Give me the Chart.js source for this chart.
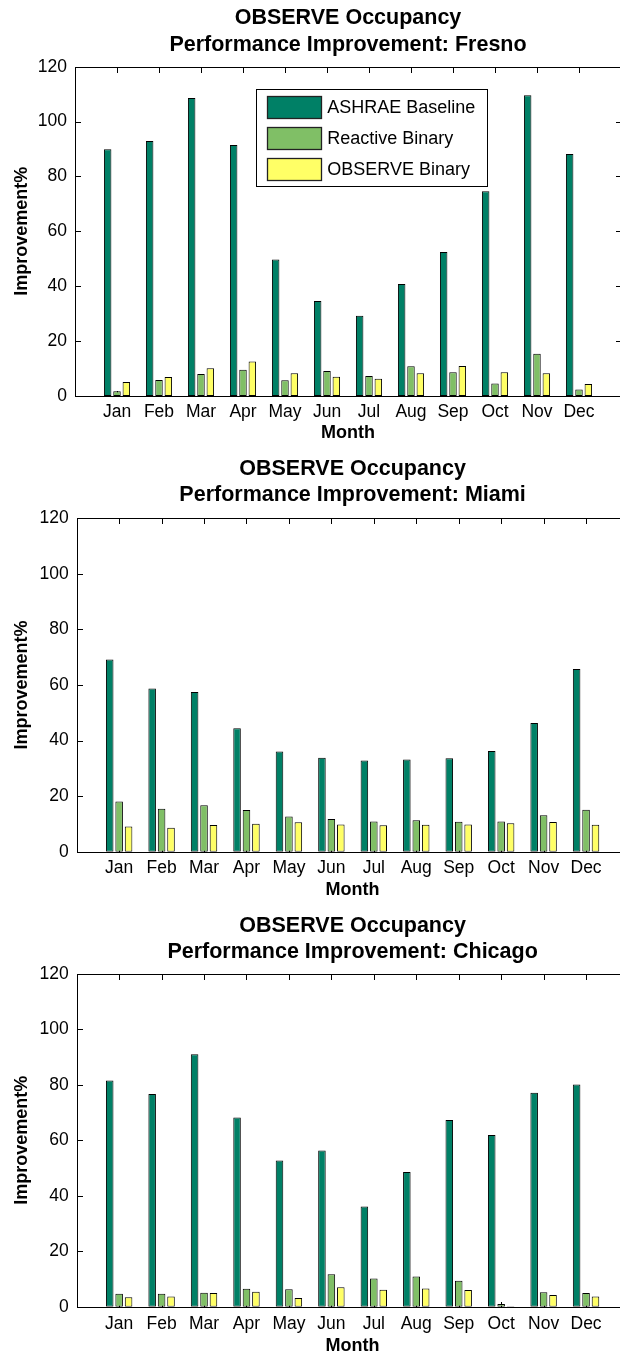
<!DOCTYPE html>
<html>
<head>
<meta charset="utf-8">
<script src="https://cdn.jsdelivr.net/npm/chart.js@4.4.1/dist/chart.umd.min.js"></script>
<style>
  html, body { margin: 0; padding: 0; background: #fff; width: 620px; height: 1357px; overflow: hidden; }
  canvas { position: absolute; left: 0; }
</style>
</head>
<body>
<canvas id="fresno"></canvas>
<canvas id="miami"></canvas>
<canvas id="chicago"></canvas>
<script>
// Month categories and series names
const months = ['Jan', 'Feb', 'Mar', 'Apr', 'May', 'Jun', 'Jul', 'Aug', 'Sep', 'Oct', 'Nov', 'Dec'];
const seriesNames = ['ASHRAE Baseline', 'Reactive Binary', 'OBSERVE Binary'];
const yTicks = [0, 20, 40, 60, 80, 100, 120];

// Improvement (%) per month — Fresno
const fresnoAshrae   = [89.9, 92.9, 108.6, 91.5, 49.7, 34.6, 29.2, 40.8, 52.5, 74.6, 109.6, 88.2];
const fresnoReactive = [1.7, 5.8, 8.0, 9.6, 5.7, 9.1, 7.3, 10.8, 8.7, 4.6, 15.4, 2.4];
const fresnoObserve  = [5.1, 6.9, 10.1, 12.6, 8.3, 7.0, 6.3, 8.3, 10.9, 8.7, 8.3, 4.4];

// Improvement (%) per month — Miami
const miamiAshrae   = [69.2, 58.7, 57.5, 44.4, 36.1, 33.8, 32.8, 33.2, 33.6, 36.2, 46.3, 65.8];
const miamiReactive = [18.1, 15.5, 16.7, 15.0, 12.7, 11.8, 10.9, 11.3, 10.8, 10.9, 13.1, 15.1];
const miamiObserve  = [9.1, 8.6, 9.6, 10.1, 10.6, 9.8, 9.5, 9.7, 9.8, 10.2, 10.7, 9.7];

// Improvement (%) per month — Chicago
const chicagoAshrae   = [81.6, 76.7, 91.1, 68.2, 52.7, 56.3, 36.1, 48.6, 67.3, 61.9, 77.2, 80.1];
const chicagoReactive = [4.7, 4.7, 5.0, 6.5, 6.3, 11.7, 10.2, 10.9, 9.4, 1.0, 5.2, 4.9];
const chicagoObserve  = [3.4, 3.7, 4.9, 5.4, 3.1, 7.0, 6.1, 6.6, 6.0, 0.2, 4.2, 3.7];

// "summer" palette: dark green, light green, yellow
const seriesColors = ['rgb(0,128,102)', 'rgb(128,191,102)', 'rgb(255,255,102)'];

const FONT = "'Liberation Sans', Arial, Helvetica, sans-serif";
const CANVAS_W = 650;
const TICK_FONT = 17.5, TICK_LH = 21;
const AXT_FONT = 18, AXT_LH = 21.6;
const TITLE_FONT = 21.5, TITLE_LH = 26.5;
const TICK_LEN = 5.5;

Chart.defaults.font.family = FONT;
Chart.defaults.color = '#000';

// Box around the axes with inward tick marks (ticks sit under the bars)
const axesBoxPlugin = {
  id: 'axesBox',
  beforeDatasetsDraw(chart) {
    const { ctx, chartArea: a, scales: { x, y } } = chart;
    const L = Math.round(a.left) + 0.5, R = Math.round(a.right) + 0.5;
    const T = Math.round(a.top) + 0.5, B = Math.round(a.bottom) + 0.5;
    ctx.save();
    ctx.strokeStyle = '#000';
    ctx.lineWidth = 1;
    ctx.beginPath();
    months.forEach((m, i) => {
      const px = Math.round(x.getPixelForValue(i + 1)) + 0.5;
      ctx.moveTo(px, T); ctx.lineTo(px, T + TICK_LEN);
      ctx.moveTo(px, B); ctx.lineTo(px, B - TICK_LEN);
    });
    yTicks.forEach(v => {
      const py = Math.round(y.getPixelForValue(v)) + 0.5;
      ctx.moveTo(L, py); ctx.lineTo(L + TICK_LEN, py);
      ctx.moveTo(R, py); ctx.lineTo(R - TICK_LEN, py);
    });
    ctx.stroke();
    ctx.restore();
  },
  afterDatasetsDraw(chart) {
    const { ctx, chartArea: a } = chart;
    const L = Math.round(a.left) + 0.5, R = Math.round(a.right) + 0.5;
    const T = Math.round(a.top) + 0.5, B = Math.round(a.bottom) + 0.5;
    ctx.save();
    ctx.strokeStyle = '#000';
    ctx.lineWidth = 1;
    ctx.strokeRect(L, T, R - L, B - T);
    ctx.restore();
  }
};

// Boxed legend placed inside the plot area
const boxLegendPlugin = {
  id: 'boxLegend',
  afterDraw(chart, args, opts) {
    if (!opts || !opts.display) return;
    const { ctx, chartArea: a } = chart;
    const bx = Math.round(a.left + opts.dx) + 0.5;
    const by = Math.round(a.top + opts.dy) + 0.5;
    ctx.save();
    ctx.fillStyle = '#fff';
    ctx.fillRect(bx, by, opts.w, opts.h);
    ctx.strokeStyle = '#000';
    ctx.lineWidth = 1;
    ctx.strokeRect(bx, by, opts.w, opts.h);
    ctx.font = opts.fontSize + 'px ' + FONT;
    ctx.textBaseline = 'middle';
    ctx.textAlign = 'left';
    chart.data.datasets.forEach((ds, i) => {
      const sx = Math.round(bx + opts.swatchX) + 0.5;
      const sy = Math.round(by + opts.swatchY + i * opts.stride) + 0.5;
      ctx.fillStyle = ds.backgroundColor;
      ctx.fillRect(sx, sy, opts.swatchW, opts.swatchH);
      ctx.strokeStyle = '#222';
      ctx.lineWidth = 1.3;
      ctx.strokeRect(sx, sy, opts.swatchW, opts.swatchH);
      ctx.fillStyle = '#000';
      ctx.fillText(ds.label, bx + opts.textX, sy + opts.swatchH / 2 + 0.5);
    });
    ctx.restore();
  }
};

function makePanel(id, city, series, p, legend) {
  const canvas = document.getElementById(id);
  const H = p.canvasH;
  canvas.width = CANVAS_W;
  canvas.height = H;
  canvas.style.top = p.canvasTop + 'px';
  canvas.style.width = CANVAS_W + 'px';
  canvas.style.height = H + 'px';

  const titlePadTop = p.title1Y - p.canvasTop - TITLE_LH / 2;
  const titlePadBottom = (p.plotTop - p.canvasTop) - titlePadTop - 2 * TITLE_LH;
  const xScaleH = H - (p.plotBottom - p.canvasTop);
  const xTickPad = p.monthY - p.plotBottom - TICK_LH / 2;
  const xTitlePad = H - (p.xTitleY - p.canvasTop) - AXT_LH / 2;

  const datasets = series.map((vals, i) => ({
    label: seriesNames[i],
    data: vals.map((v, k) => ({ x: k + 1, y: v })),
    backgroundColor: seriesColors[i],
    borderColor: '#000',
    borderWidth: 1,
    borderSkipped: false,
    categoryPercentage: 3 / 4.5,
    barPercentage: 0.8
  }));

  return new Chart(canvas, {
    type: 'bar',
    data: { datasets },
    plugins: [axesBoxPlugin, boxLegendPlugin],
    options: {
      responsive: false,
      animation: false,
      devicePixelRatio: 1,
      layout: { padding: { left: 0, top: 0, bottom: 0, right: CANVAS_W - p.plotRight } },
      plugins: {
        legend: { display: false },
        tooltip: { enabled: false },
        title: {
          display: true,
          fullSize: false,
          text: ['OBSERVE Occupancy', 'Performance Improvement: ' + city],
          color: '#000',
          font: { size: TITLE_FONT, weight: 'bold', lineHeight: TITLE_LH + 'px' },
          padding: { top: titlePadTop, bottom: titlePadBottom }
        },
        boxLegend: legend || { display: false }
      },
      scales: {
        x: {
          type: 'linear',
          offset: false,
          min: 0,
          max: 13,
          grid: { display: false, drawTicks: false },
          border: { display: false },
          ticks: {
            stepSize: 1,
            autoSkip: false,
            maxRotation: 0,
            padding: xTickPad,
            font: { size: TICK_FONT, lineHeight: TICK_LH + 'px' },
            callback: v => (v >= 1 && v <= 12 ? months[v - 1] : '')
          },
          title: {
            display: true,
            text: 'Month',
            font: { size: AXT_FONT, weight: 'bold', lineHeight: AXT_LH + 'px' },
            padding: { top: 0, bottom: xTitlePad }
          },
          afterFit: s => { s.height = xScaleH; }
        },
        y: {
          min: 0,
          max: 120,
          grid: { display: false, drawTicks: false },
          border: { display: false },
          ticks: {
            stepSize: 20,
            padding: 8,
            font: { size: TICK_FONT, lineHeight: TICK_LH + 'px' }
          },
          title: {
            display: true,
            text: 'Improvement%',
            font: { size: AXT_FONT, weight: 'bold', lineHeight: AXT_LH + 'px' },
            padding: { top: p.yTitleX - AXT_LH / 2, bottom: 0 }
          },
          afterFit: s => { s.width = p.plotLeft; }
        }
      }
    }
  });
}

makePanel('fresno', 'Fresno', [fresnoAshrae, fresnoReactive, fresnoObserve], {
  canvasTop: 0, canvasH: 452, plotLeft: 75, plotRight: 621, plotTop: 66.7, plotBottom: 396,
  title1Y: 18.3, monthY: 412.3, xTitleY: 433.3, yTitleX: 21.7
}, {
  display: true, dx: 181, dy: 21.8, w: 231, h: 97, fontSize: 18,
  swatchX: 10.7, swatchY: 6.8, swatchW: 54, swatchH: 22, stride: 30.7, textX: 70.7
});

makePanel('miami', 'Miami', [miamiAshrae, miamiReactive, miamiObserve], {
  canvasTop: 452, canvasH: 453, plotLeft: 76.7, plotRight: 628.5, plotTop: 518.3, plotBottom: 851.7,
  title1Y: 469, monthY: 868.3, xTitleY: 890, yTitleX: 21.7
});

makePanel('chicago', 'Chicago', [chicagoAshrae, chicagoReactive, chicagoObserve], {
  canvasTop: 905, canvasH: 452, plotLeft: 76.7, plotRight: 628.5, plotTop: 974, plotBottom: 1306.7,
  title1Y: 925.7, monthY: 1324.3, xTitleY: 1346, yTitleX: 21.7
});
</script>
</body>
</html>
